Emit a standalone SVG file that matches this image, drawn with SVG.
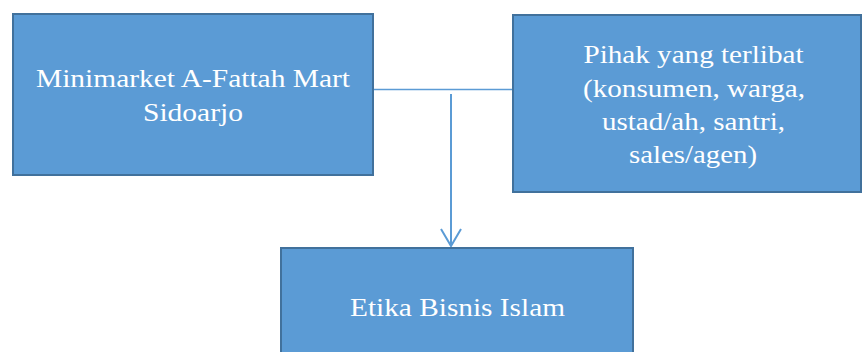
<svg xmlns="http://www.w3.org/2000/svg" width="862" height="352" viewBox="0 0 862 352">
<style>
.box{fill:#5B9BD5;stroke:#41719C;stroke-width:2}
.t{font-family:"Liberation Serif","Times New Roman",serif;font-size:26px;fill:#FFFFFF;text-anchor:middle}
.c{stroke:#5B9BD5;fill:none}
</style>
<rect width="862" height="352" fill="#FFFFFF"/>
<g id="connectors">
<line class="c" x1="374" y1="89.5" x2="513" y2="89.5" stroke-width="1.5"/>
<line class="c" x1="451" y1="94" x2="451" y2="245" stroke-width="2"/>
<polyline class="c" points="441,229 451,246 461,229" stroke-width="2"/>
</g>
<g id="node-minimarket">
<rect class="box" x="13" y="14" width="360" height="161"/>
<text class="t" x="193" y="87" textLength="314" lengthAdjust="spacingAndGlyphs">Minimarket A-Fattah Mart</text>
<text class="t" x="193" y="121" textLength="100" lengthAdjust="spacingAndGlyphs">Sidoarjo</text>
</g>
<g id="node-pihak">
<rect class="box" x="513" y="15" width="348" height="177"/>
<text class="t" x="693.5" y="63" textLength="220" lengthAdjust="spacingAndGlyphs">Pihak yang terlibat</text>
<text class="t" x="694" y="96.5" textLength="222" lengthAdjust="spacingAndGlyphs">(konsumen, warga,</text>
<text class="t" x="693.5" y="130" textLength="183" lengthAdjust="spacingAndGlyphs">ustad/ah, santri,</text>
<text class="t" x="693" y="163" textLength="128" lengthAdjust="spacingAndGlyphs">sales/agen)</text>
</g>
<g id="node-etika">
<rect class="box" x="281" y="248" width="352" height="110"/>
<text class="t" x="457.5" y="316" textLength="215" lengthAdjust="spacingAndGlyphs">Etika Bisnis Islam</text>
</g>
</svg>
